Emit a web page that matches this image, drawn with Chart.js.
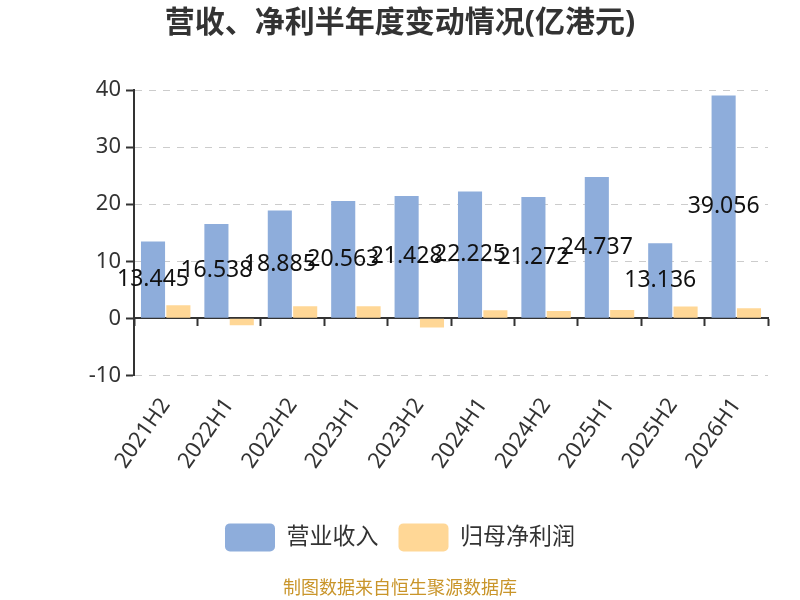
<!DOCTYPE html>
<html>
<head>
<meta charset="utf-8">
<script src="https://cdn.jsdelivr.net/npm/chart.js@4.4.1/dist/chart.umd.min.js"></script>
<style>
  html, body { margin: 0; padding: 0; background: #fff; }
  #wrap { width: 800px; height: 600px; }
</style>
</head>
<body>
<div id="wrap"><canvas id="chart" width="800" height="600"></canvas></div>
<script>
// 半年度数据 (亿港元)
const periods   = ['2021H2', '2022H1', '2022H2', '2023H1', '2023H2', '2024H1', '2024H2', '2025H1', '2025H2', '2026H1'];
const revenue   = [13.445, 16.538, 18.885, 20.563, 21.428, 22.225, 21.272, 24.737, 13.136, 39.056];
const netProfit = [2.3, -1.2, 2.1, 2.1, -1.6, 1.4, 1.3, 1.45, 2.05, 1.75];
const yTicks    = { min: -10, max: 40, step: 10 };

const FONT = "'Noto Sans', 'Noto Sans CJK SC', sans-serif";
Chart.defaults.font.family = FONT;
Chart.defaults.color = '#333';

// 营业收入柱子中间的数值标签
const valueLabels = {
  id: 'valueLabels',
  afterDatasetsDraw(chart) {
    const ctx  = chart.ctx;
    const meta = chart.getDatasetMeta(0);
    ctx.save();
    ctx.font = '23px ' + FONT;
    ctx.fillStyle = '#111';
    ctx.textAlign = 'center';
    ctx.textBaseline = 'middle';
    meta.data.forEach((bar, i) => {
      ctx.fillText(String(revenue[i]), bar.x, (bar.y + bar.base) / 2);
    });
    ctx.restore();
  }
};

new Chart(document.getElementById('chart'), {
  type: 'bar',
  data: {
    labels: periods,
    datasets: [
      { label: '营业收入',   data: revenue,   backgroundColor: '#8eaddb', borderWidth: 0 },
      { label: '归母净利润', data: netProfit, backgroundColor: '#ffd796', borderWidth: 0 }
    ]
  },
  options: {
    responsive: false,
    animation: false,
    layout: { padding: { left: 16, right: 16, top: 0, bottom: 0 } },
    datasets: { bar: { categoryPercentage: 0.8, barPercentage: 0.95 } },
    plugins: {
      title: {
        display: true,
        text: '营收、净利半年度变动情况(亿港元)',
        color: '#333',
        font: { size: 30, weight: 'bold' },
        padding: { top: 5, bottom: 49 }
      },
      subtitle: {
        display: true,
        position: 'bottom',
        text: '制图数据来自恒生聚源数据库',
        color: '#c9952a',
        font: { size: 18 },
        padding: { top: 17, bottom: 0 }
      },
      legend: {
        position: 'bottom',
        labels: {
          boxWidth: 50,
          boxHeight: 28,
          useBorderRadius: true,
          borderRadius: 5,
          padding: 20,
          color: '#333',
          font: { size: 23 }
        }
      },
      tooltip: { enabled: false }
    },
    scales: {
      x: {
        offset: true,
        grid: { display: false },
        border: { display: false },
        ticks: { color: '#333', font: { size: 22 }, minRotation: 55, maxRotation: 55, autoSkip: false, padding: 10 },
        afterFit(scale) { scale.height = 128; }
      },
      x2: {
        type: 'category',
        position: { y: 0 },
        offset: true,
        ticks: { display: false },
        grid: { offset: true, drawOnChartArea: false, drawTicks: true, tickLength: 7, tickColor: '#333', tickWidth: 2 },
        border: { display: true, color: '#333', width: 2 }
      },
      y: {
        min: yTicks.min,
        max: yTicks.max,
        ticks: { stepSize: yTicks.step, color: '#333', font: { size: 22 }, padding: 5 },
        grid: { color: '#ccc', lineWidth: 1, tickLength: 8, tickColor: '#333', tickWidth: 2 },
        border: { display: true, color: '#333', width: 2, dash: [7, 7] },
        afterFit(scale) { scale.width = 118; }
      },
      // 右侧留白, 使标题和图例居中于画布
      yRight: {
        position: 'right',
        display: true,
        min: yTicks.min,
        max: yTicks.max,
        grid: { display: false },
        border: { display: false },
        ticks: { display: false },
        afterFit(scale) { scale.width = 16; }
      }
    }
  },
  plugins: [valueLabels]
});
</script>
</body>
</html>
